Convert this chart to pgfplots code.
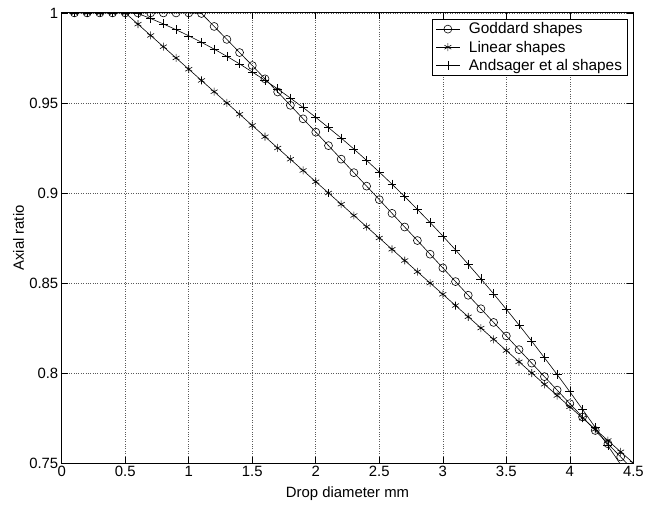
\documentclass[border=0pt]{standalone}
\usepackage{fontspec}
\setmainfont{Liberation Sans}
\usepackage{pgfplots}
\usepackage{pgfplotstable}
\pgfplotsset{compat=1.18}
\pgfplotstableread{
d r
0.1 1
0.2 1
0.3 1
0.4 1
0.5 1
0.6 1
0.7 1
0.8 1
0.9 1
1.0 1
1.1 0.9997
1.2 0.9925
1.3 0.9853
1.4 0.9780
1.5 0.9708
1.6 0.9634
1.7 0.9561
1.8 0.9487
1.9 0.9412
2.0 0.9338
2.1 0.9263
2.2 0.9188
2.3 0.9113
2.4 0.9038
2.5 0.8963
2.6 0.8887
2.7 0.8811
2.8 0.8736
2.9 0.8660
3.0 0.8584
3.1 0.8508
3.2 0.8432
3.3 0.8357
3.4 0.8281
3.5 0.8206
3.6 0.8130
3.7 0.8055
3.8 0.7980
3.9 0.7905
4.0 0.7830
4.1 0.7756
4.2 0.7681
4.3 0.7607
4.4 0.7534
4.5 0.7461
}\goddard
\pgfplotstableread{
d r
0.1 1
0.2 1
0.3 1
0.4 1
0.5 1
0.6 0.99375
0.7 0.9875
0.8 0.98125
0.9 0.975
1.0 0.96875
1.1 0.9625
1.2 0.95625
1.3 0.95
1.4 0.94375
1.5 0.9375
1.6 0.93125
1.7 0.925
1.8 0.91875
1.9 0.9125
2.0 0.90625
2.1 0.9
2.2 0.89375
2.3 0.8875
2.4 0.88125
2.5 0.875
2.6 0.86875
2.7 0.8625
2.8 0.85625
2.9 0.85
3.0 0.84375
3.1 0.8375
3.2 0.83125
3.3 0.825
3.4 0.81875
3.5 0.8125
3.6 0.80625
3.7 0.8
3.8 0.79375
3.9 0.7875
4.0 0.78125
4.1 0.775
4.2 0.76875
4.3 0.7625
4.4 0.75625
4.5 0.75
}\linear
\pgfplotstableread{
d r
0.1 1
0.2 1
0.3 1
0.4 1
0.5 1
0.6 0.9997
0.7 0.9969
0.8 0.9939
0.9 0.9907
1.0 0.9873
1.1 0.9837
1.2 0.9799
1.3 0.9759
1.4 0.9717
1.5 0.9672
1.6 0.9626
1.7 0.9578
1.8 0.9527
1.9 0.9475
2.0 0.9420
2.1 0.9363
2.2 0.9305
2.3 0.9244
2.4 0.9181
2.5 0.9116
2.6 0.9049
2.7 0.8980
2.8 0.8909
2.9 0.8836
3.0 0.8761
3.1 0.8684
3.2 0.8604
3.3 0.8523
3.4 0.8440
3.5 0.8354
3.6 0.8267
3.7 0.8177
3.8 0.8085
3.9 0.7992
4.0 0.7896
4.1 0.7798
4.2 0.7698
4.3 0.7596
4.4 0.7492
4.5 0.7386
}\andsager
\begin{document}
\begin{tikzpicture}
\begin{axis}[
  scale only axis, width=574bp, height=452bp,
  xmin=0, xmax=4.5, ymin=0.75, ymax=1,
  xtick={0,0.5,1,1.5,2,2.5,3,3.5,4,4.5},
  ytick={0.75,0.8,0.85,0.9,0.95,1},
  xtick pos=both, ytick pos=both,
  tick align=inside,
  major tick length=6bp,
  grid=major,
  grid style={dotted, line width=0.6pt, black!65},
  axis line style={line width=0.9pt},
  tick style={black, line width=0.6pt},
  /pgf/number format/assume math mode=true,
  /pgf/number format/fixed,
  /pgf/number format/precision=2,
  tick label style={font=\fontsize{15}{18}\selectfont},
  label style={font=\fontsize{15}{18}\selectfont},
  xlabel={Drop diameter mm},
  ylabel={Axial ratio},
  xlabel style={at={(axis description cs:0.5,0)}, anchor=base, yshift=-35bp},
  ylabel style={at={(axis description cs:0,0.5)}, anchor=base, yshift=38bp},
  clip marker paths=true,
  every axis plot/.append style={black, line width=0.6pt},
  legend cell align=left,
  legend style={at={(rel axis cs:1,1)}, anchor=north east, xshift=-6bp, yshift=-6bp,
    font=\fontsize{15.5}{18}\selectfont, draw=black, line width=0.8pt,
    inner xsep=3bp, inner ysep=1.5bp, row sep=1.5bp, column sep=7bp},
  legend image code/.code={\draw[mark repeat=2,mark phase=2] plot coordinates {(0cm,0cm) (0.42cm,0cm) (0.84cm,0cm)};},
]
\addplot[mark=o, mark size=4bp, mark options={line width=0.6pt}] table[x=d,y=r] {\goddard};
\addlegendentry{Goddard shapes}
\addplot[mark=asterisk, mark size=4bp, mark options={line width=0.6pt}] table[x=d,y=r] {\linear};
\addlegendentry{Linear shapes}
\addplot[mark=+, mark size=4.5bp, mark options={line width=0.6pt}] table[x=d,y=r] {\andsager};
\addlegendentry{Andsager et al shapes}
\end{axis}
\path (current axis.south west) ++(-62bp,-40bp);
\path (current axis.north east) ++(11bp,13bp);
\end{tikzpicture}
\end{document}
